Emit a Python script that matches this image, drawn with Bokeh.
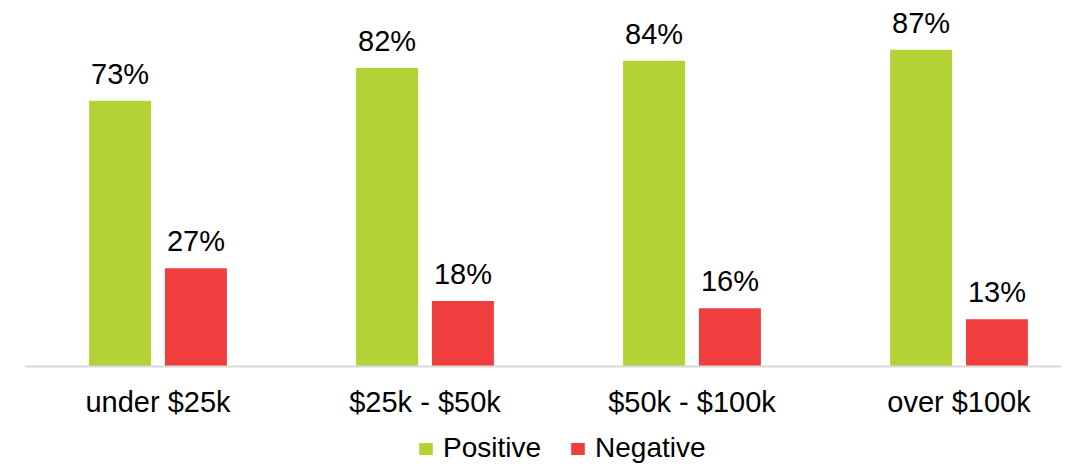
from bokeh.plotting import figure
from bokeh.models import Range1d, FixedTicker, ColumnDataSource, Legend, LegendItem
from bokeh.core.properties import value
from bokeh.embed import file_html
from bokeh.resources import INLINE

categories = ["under $25k", "$25k - $50k", "$50k - $100k", "over $100k"]
positive = [73, 82, 84, 87]
negative = [27, 18, 16, 13]
series_names = ["Positive", "Negative"]

GREEN = "#B2D235"
RED = "#F03E3E"
FONT = "Liberation Sans"
FS = "29px"

centers = [i + 0.5 for i in range(len(categories))]
off = 0.142
bw = 0.232
PX = 3.64  # pixels per percent

src_pos = ColumnDataSource(dict(x=[c - off for c in centers], top=positive,
                                lab=[f"{v}%" for v in positive]))
src_neg = ColumnDataSource(dict(x=[c + off for c in centers], top=negative,
                                lab=[f"{v}%" for v in negative]))

p = figure(width=1061, height=464, output_backend="svg", toolbar_location=None,
           x_range=Range1d(0, 1037 / 267),
           y_range=Range1d(-(464 - 366) / PX, 366 / PX),
           y_axis_location=None, min_border_left=24, min_border_right=0,
           min_border_top=0, min_border_bottom=0)
p.outline_line_color = None
p.xgrid.visible = False
p.ygrid.visible = False

r_pos = p.vbar(x="x", top="top", bottom=0, width=bw, source=src_pos, color=GREEN, line_color=None)
r_neg = p.vbar(x="x", top="top", bottom=0, width=bw, source=src_neg, color=RED, line_color=None)

for src in (src_pos, src_neg):
    p.text(x="x", y="top", text="lab", source=src, y_offset=-27,
           text_align="center", text_baseline="alphabetic",
           text_font=value(FONT), text_font_size=FS, text_color="#000000")

ax = p.xaxis[0]
ax.fixed_location = 0
ax.ticker = FixedTicker(ticks=centers)
ax.major_label_overrides = {c: lab for c, lab in zip(centers, categories)}
ax.axis_line_color = "#D9D9D9"
ax.axis_line_width = 2
ax.major_tick_line_color = None
ax.minor_tick_line_color = None
ax.major_label_standoff = 13
ax.major_label_text_font = FONT
ax.major_label_text_font_size = FS
ax.major_label_text_color = "#000000"

legend = Legend(items=[LegendItem(label=series_names[0], renderers=[r_pos]),
                       LegendItem(label=series_names[1], renderers=[r_neg])],
                orientation="horizontal", location=(393, 0),
                glyph_width=17, glyph_height=15, label_standoff=9, spacing=28,
                padding=0, margin=0, border_line_color=None,
                background_fill_alpha=0,
                label_text_font=FONT, label_text_font_size="28px",
                label_text_color="#000000", label_height=28)
p.add_layout(legend, "center")

open("out.html", "w").write(file_html(p, INLINE))
